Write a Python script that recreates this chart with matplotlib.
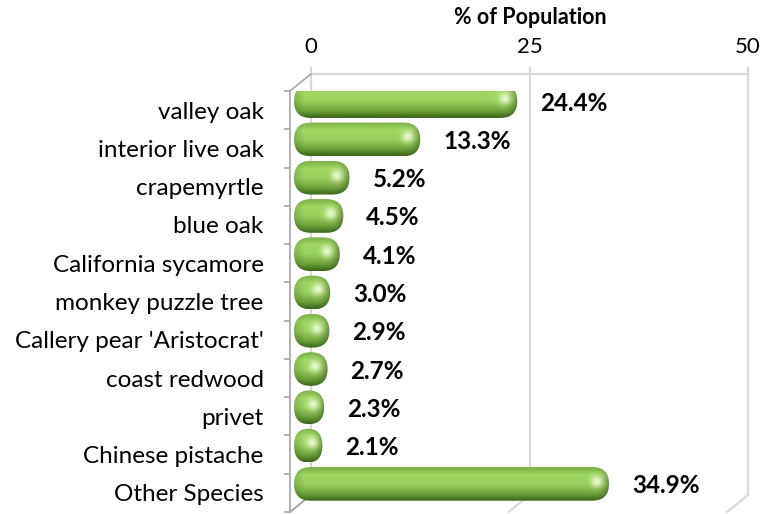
import numpy as np
import matplotlib
matplotlib.use("Agg")
import matplotlib.pyplot as plt
from matplotlib.colors import LinearSegmentedColormap, to_rgb
from matplotlib.patches import FancyBboxPatch
from matplotlib.transforms import offset_copy, ScaledTranslation

# data
species = ["valley oak", "interior live oak", "crapemyrtle", "blue oak",
           "California sycamore", "monkey puzzle tree", "Callery pear 'Aristocrat'",
           "coast redwood", "privet", "Chinese pistache", "Other Species"]
share = [24.4, 13.3, 5.2, 4.5, 4.1, 3.0, 2.9, 2.7, 2.3, 2.1, 34.9]
x_ticks = [0, 25, 50]
x_title = "% of Population"

plt.rcParams['font.family'] = ['Lato', 'DejaVu Sans']

W, H, DPI = 768, 514, 100
fig = plt.figure(figsize=(W / DPI, H / DPI), dpi=DPI)
# front plane of the 3d box
ax = fig.add_axes([290 / W, 1 - 512 / H, 437 / W, 421 / H])
n = len(species)
ax.set_xlim(0, 50)
ax.set_ylim(n, 0)
centers = np.arange(n) + 0.5

px_x = 437 / 50.0      # pixels per x unit
px_y = 421 / float(n)  # pixels per category
DX, DY = 21, 17        # depth offset in pixels (right, up)
dxu, dyu = DX / px_x, DY / px_y

grid_c = "#d9d9d9"
wall_c = "#a6a6a6"

# back wall + floor lines
for xv in x_ticks:
    ax.plot([xv + dxu, xv + dxu], [0 - dyu, n - dyu], color=grid_c, lw=1.6,
            clip_on=False, zorder=0)
    ax.plot([xv, xv + dxu], [n, n - dyu], color=grid_c, lw=1.6, clip_on=False, zorder=0)
    ax.plot([xv + dxu, xv + dxu], [0 - dyu, 0 - dyu - 6 / px_y], color=grid_c, lw=1.6,
            clip_on=False, zorder=0)
ax.plot([dxu, 50 + dxu], [-dyu, -dyu], color=grid_c, lw=1.6, clip_on=False, zorder=0)

# left wall
ax.plot([0, dxu], [0, -dyu], color=wall_c, lw=1.2, clip_on=False, zorder=1)
ax.plot([0, dxu], [n, n - dyu], color=wall_c, lw=1.2, clip_on=False, zorder=1)

for s in ["top", "right", "bottom"]:
    ax.spines[s].set_visible(False)
ax.spines["left"].set_color(wall_c)
ax.spines["left"].set_linewidth(1.2)
ax.patch.set_visible(False)

ax.set_yticks(centers)
ax.set_yticklabels(species, fontsize=17.5, color="#000000")
ax.set_yticks(np.arange(n + 1), minor=True)
ax.tick_params(axis="y", which="major", length=0, pad=19)
ax.tick_params(axis="y", which="minor", length=4, width=1.2, color=wall_c)

ax.xaxis.tick_top()
ax.set_xticks(x_ticks)
ax.set_xticklabels([str(t) for t in x_ticks], fontsize=16)
ax.tick_params(axis="x", length=0, pad=12)
for lab in ax.get_xticklabels():
    lab.set_transform(lab.get_transform() + ScaledTranslation(DX / DPI, DY / DPI, fig.dpi_scale_trans))

fig.text(530 / W, 1 - 18 / H, x_title, ha="center", va="center", fontsize=15.5,
         fontweight="bold")

# cylinder bars
BX, BY = 14, 9        # bar plane offset
cap = 10 / px_x       # extra length of the rounded cap
bar_h = 0.88
bar_tr = offset_copy(ax.transData, fig=fig, x=BX, y=BY, units="dots")
bars = ax.barh(centers, share, height=bar_h, left=0, color="none",
               edgecolor="none", transform=bar_tr)

stops = [(0.0, "#7bb048"), (0.22, "#9fd862"), (0.5, "#99d15c"),
         (0.8, "#6da23a"), (1.0, "#3c681b")]
cmap = LinearSegmentedColormap.from_list("cyl", stops)
hi = np.array(to_rgb("#f6ffe4"))

for rect in bars:
    x0, y0, w, h = rect.get_x(), rect.get_y(), rect.get_width(), rect.get_height()
    xs, xe = x0 - cap, x0 + w
    wpx = (xe - xs) * px_x
    hpx = h * px_y
    r_px = min(hpx / 2, wpx / 2)
    rx = r_px / px_x
    asp = (hpx / 2 / px_y) / rx
    patch = FancyBboxPatch((xs, y0), xe - xs, h,
                           boxstyle="round,pad=0,rounding_size=%f" % rx,
                           mutation_aspect=asp, transform=bar_tr,
                           facecolor="none", edgecolor="none")
    ax.add_patch(patch)

    ncol, nrow = max(int(wpx), 4), max(int(hpx), 4)
    gx = np.linspace(0, wpx, ncol)
    gy = np.linspace(0, 1, nrow)
    rgb = cmap(gy)[:, :3][:, None, :] * np.ones((1, ncol, 1))
    # darken toward the rounded end
    t = np.clip((gx - (wpx - r_px)) / r_px, 0, 1)
    f = 1 - 0.35 * t ** 2.5
    tl = np.clip(1 - gx / (r_px * 0.6), 0, 1)
    f = f * (1 - 0.15 * tl)
    rgb = rgb * f[None, :, None]
    # highlight spot
    cx = wpx - r_px * 0.75
    cy = 0.42 * hpx
    yy = gy * hpx
    d2 = (gx[None, :] - cx) ** 2 + (yy[:, None] - cy) ** 2
    g = np.exp(-d2 / (2 * 4.2 ** 2)) * 0.85
    rgb = rgb * (1 - g[:, :, None]) + hi[None, None, :] * g[:, :, None]
    im = ax.imshow(rgb, extent=[xs, xe, y0 + h, y0], transform=bar_tr,
                   aspect="auto", interpolation="bilinear", zorder=2)
    im.set_clip_path(patch)

    ax.text(xe, y0 + h / 2, "%.1f%%" % w,
            transform=offset_copy(ax.transData, fig=fig, x=BX + 23, y=BY - 2, units="dots"),
            ha="left", va="center", fontsize=17.5, fontweight="bold", zorder=3)

ax.set_xlim(0, 50)
ax.set_ylim(n, 0)

fig.savefig("out.png", dpi=DPI)
